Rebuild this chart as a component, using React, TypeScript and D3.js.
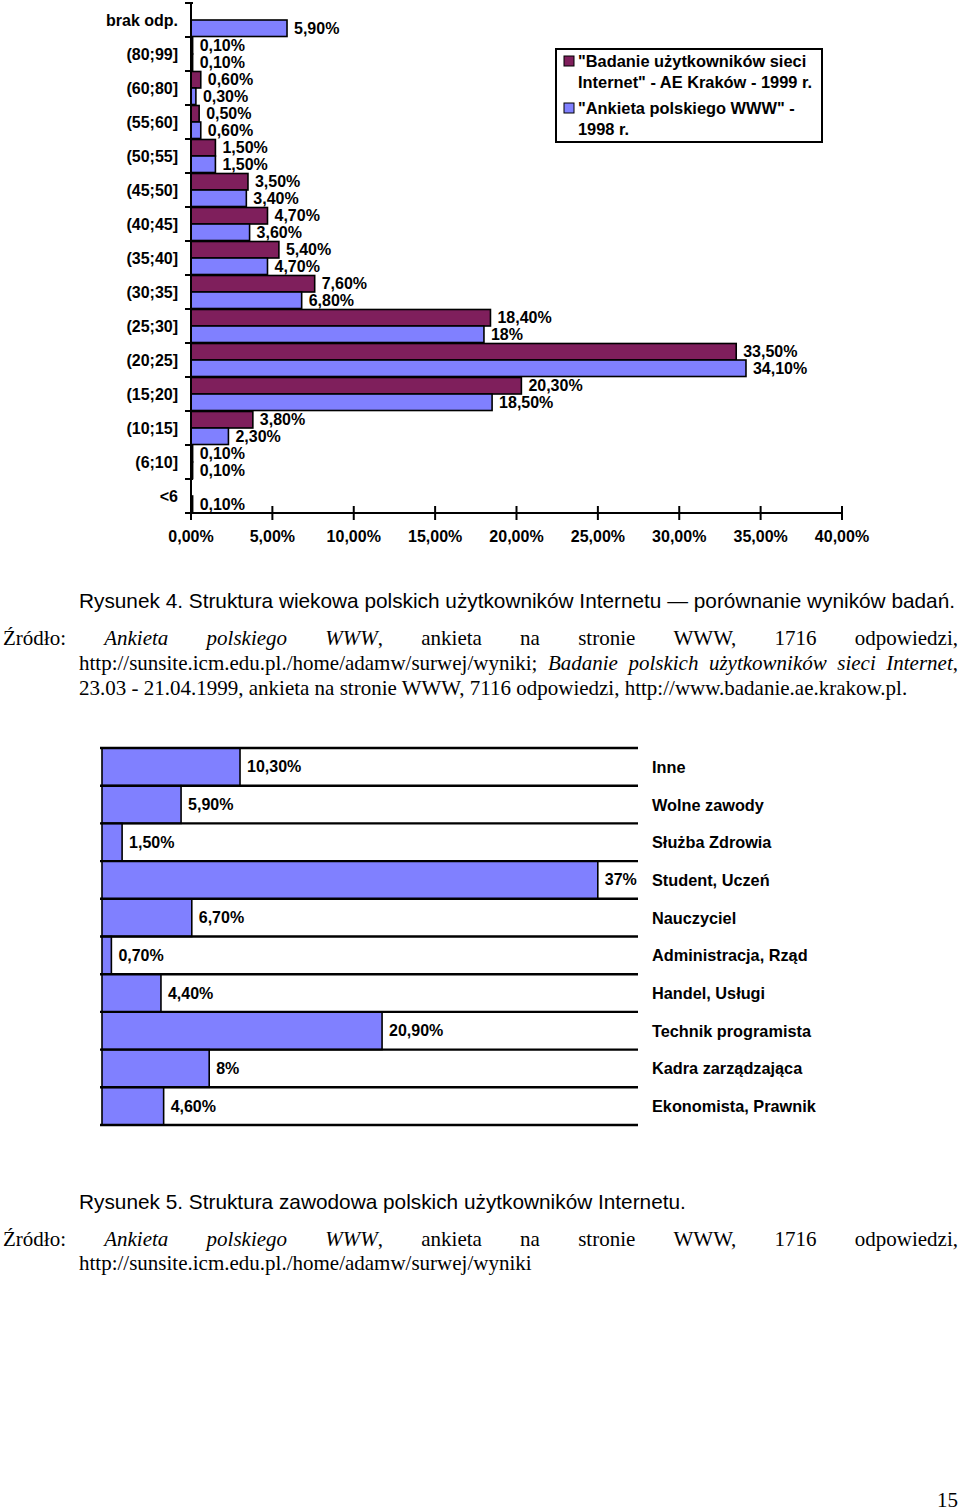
import React from 'react';
import * as d3 from 'd3';

// ---------- Data: Figure 4 (age structure) ----------
const ageCategories = ['brak odp.', '(80;99]', '(60;80]', '(55;60]', '(50;55]', '(45;50]', '(40;45]', '(35;40]', '(30;35]', '(25;30]', '(20;25]', '(15;20]', '(10;15]', '(6;10]', '<6'];
const krakow1999: (number | null)[] = [null, 0.1, 0.6, 0.5, 1.5, 3.5, 4.7, 5.4, 7.6, 18.4, 33.5, 20.3, 3.8, 0.1, null];
const www1998: (number | null)[] = [5.9, 0.1, 0.3, 0.6, 1.5, 3.4, 3.6, 4.7, 6.8, 18, 34.1, 18.5, 2.3, 0.1, 0.1];
const ageTicks = [0, 5, 10, 15, 20, 25, 30, 35, 40];
const seriesKeys = ['1999', '1998'];
const seriesColors = ['#7f1f5c', '#8080ff'];
const legendLines = [
  ['"Badanie użytkowników sieci', 'Internet" - AE Kraków - 1999 r.'],
  ['"Ankieta polskiego WWW" -', '1998 r.'],
];

// ---------- Data: Figure 5 (occupation structure) ----------
const jobCategories = ['Inne', 'Wolne zawody', 'Służba Zdrowia', 'Student, Uczeń', 'Nauczyciel', 'Administracja, Rząd', 'Handel, Usługi', 'Technik programista', 'Kadra zarządzająca', 'Ekonomista, Prawnik'];
const jobValues = [10.3, 5.9, 1.5, 37, 6.7, 0.7, 4.4, 20.9, 8, 4.6];

// ---------- Texts ----------
const caption4 = 'Rysunek 4. Struktura wiekowa polskich użytkowników Internetu — porównanie wyników badań.';
const caption5 = 'Rysunek 5. Struktura zawodowa polskich użytkowników Internetu.';
type Run = [string, boolean];
type Word = Run[];
const srcLine1: Word[] = [
  [['Źródło:', false]], [['Ankieta', true]], [['polskiego', true]], [['WWW', true], [',', false]],
  [['ankieta', false]], [['na', false]], [['stronie', false]], [['WWW,', false]], [['1716', false]], [['odpowiedzi,', false]],
];
const srcLine2: Word[] = [
  [['http://sunsite.icm.edu.pl./home/adamw/surwej/wyniki;', false]], [['Badanie', true]], [['polskich', true]],
  [['użytkowników', true]], [['sieci', true]], [['Internet', true], [',', false]],
];
const srcLine3 = '23.03 - 21.04.1999, ankieta na stronie WWW, 7116 odpowiedzi, http://www.badanie.ae.krakow.pl.';
const srcLine5b = 'http://sunsite.icm.edu.pl./home/adamw/surwej/wyniki';
const pageNumber = '15';

const fmt = (v: number) => (Number.isInteger(v) ? `${v}%` : `${v.toFixed(2).replace('.', ',')}%`);
const fmtTick = (v: number) => `${v.toFixed(2).replace('.', ',')}%`;

const SANS = '"Liberation Sans", Arial, Helvetica, sans-serif';
const SERIF = '"Liberation Serif", "Times New Roman", serif';
const SERIF_SIZE = 21;
const CAPTION_SIZE = 20.8;

let _ctx: CanvasRenderingContext2D | null = null;
function measure(t: string, italic: boolean) {
  if (!_ctx) _ctx = document.createElement('canvas').getContext('2d');
  _ctx!.font = `${italic ? 'italic ' : ''}${SERIF_SIZE}px "Liberation Serif"`;
  return _ctx!.measureText(t).width;
}

function JustifiedLine({ words, x0, x1, y }: { words: Word[]; x0: number; x1: number; y: number }) {
  const widths = words.map((w) => w.reduce((s, r) => s + measure(r[0], r[1]), 0));
  const total = widths.reduce((a, b) => a + b, 0);
  const gap = (x1 - x0 - total) / (words.length - 1);
  let x = x0;
  return (
    <g fontFamily={SERIF} fontSize={SERIF_SIZE} fill="#000">
      {words.map((w, i) => {
        const xx = x;
        x += widths[i] + gap;
        return (
          <text key={i} x={xx} y={y}>
            {w.map((r, j) => (
              <tspan key={j} fontStyle={r[1] ? 'italic' : 'normal'}>{r[0]}</tspan>
            ))}
          </text>
        );
      })}
    </g>
  );
}

function AgeChart() {
  const x = d3.scaleLinear().domain([0, 40]).range([191, 842]);
  const y = d3.scaleBand<string>().domain(ageCategories).range([3, 513]).paddingInner(0).paddingOuter(0);
  const ys = d3.scaleBand<string>().domain(seriesKeys).range([0, y.bandwidth()]).paddingInner(0).paddingOuter(0.03);
  const series = [krakow1999, www1998];
  const boundaries = ageCategories.map((c) => y(c)!).concat([y.range()[1]]);
  const axisY = y.range()[1];
  return (
    <g fontFamily={SANS} fontWeight="bold" fontSize={16}>
      {series.map((vals, si) =>
        vals.map((v, i) => {
          if (v === null) return null;
          const cat = ageCategories[i];
          const top = y(cat)! + ys(seriesKeys[si])!;
          const h = ys.bandwidth();
          return (
            <g key={`${si}-${i}`}>
              <rect x={x(0)} y={top} width={x(v) - x(0)} height={h} fill={seriesColors[si]} stroke="#000" strokeWidth={1.6} />
              <text x={x(v) + 7} y={top + h / 2} dominantBaseline="central">{fmt(v)}</text>
            </g>
          );
        })
      )}
      {/* category axis */}
      <line x1={x(0)} x2={x(0)} y1={y.range()[0]} y2={axisY} stroke="#000" strokeWidth={2} />
      {boundaries.map((b, i) => (
        <line key={i} x1={x(0) - 6} x2={x(0) + 2} y1={b} y2={b} stroke="#000" strokeWidth={2} />
      ))}
      {ageCategories.map((c) => (
        <text key={c} x={178} y={y(c)! + y.bandwidth() / 2} textAnchor="end" dominantBaseline="central">{c}</text>
      ))}
      {/* value axis */}
      <line x1={x(0)} x2={x(40)} y1={axisY} y2={axisY} stroke="#000" strokeWidth={2} />
      {ageTicks.map((t) => (
        <g key={t}>
          <line x1={x(t)} x2={x(t)} y1={axisY - 7} y2={axisY + 7} stroke="#000" strokeWidth={2} />
          <text x={x(t)} y={axisY + 29} textAnchor="middle">{fmtTick(t)}</text>
        </g>
      ))}
      {/* legend */}
      <rect x={556} y={49} width={266} height={93} fill="#fff" stroke="#000" strokeWidth={2} />
      {legendLines.map((lines, i) => (
        <g key={i} fontSize={16.4}>
          <rect x={564} y={56 + i * 47} width={10} height={10} fill={seriesColors[i]} stroke="#000" strokeWidth={1} />
          {lines.map((l, j) => (
            <text key={j} x={578} y={61 + i * 47 + j * 21} dominantBaseline="central">{l}</text>
          ))}
        </g>
      ))}
    </g>
  );
}

function JobChart() {
  const x = d3.scaleLinear().domain([0, 40]).range([102, 638]);
  const y = d3.scaleBand<string>().domain(jobCategories).range([748, 1125]).padding(0);
  const boundaries = jobCategories.map((c) => y(c)!).concat([y.range()[1]]);
  return (
    <g fontFamily={SANS} fontWeight="bold" fontSize={16}>
      {jobValues.map((v, i) => {
        const c = jobCategories[i];
        return (
          <g key={c}>
            <rect x={x(0)} y={y(c)!} width={x(v) - x(0)} height={y.bandwidth()} fill="#8080ff" stroke="#000" strokeWidth={1.6} />
            <text x={x(v) + 7} y={y(c)! + y.bandwidth() / 2} dominantBaseline="central">{fmt(v)}</text>
            <text x={652} y={y(c)! + y.bandwidth() / 2} dominantBaseline="central" fontSize={16.3}>{c}</text>
          </g>
        );
      })}
      {boundaries.map((b, i) => (
        <line key={i} x1={x(0) - 2} x2={x(40)} y1={b} y2={b} stroke="#000" strokeWidth={2.4} />
      ))}
    </g>
  );
}

export default function App() {
  return (
    <svg width={960} height={1511} viewBox="0 0 960 1511" style={{ position: 'absolute', left: 0, top: 0, display: 'block', background: '#fff' }}>
      <rect x={0} y={0} width={960} height={1511} fill="#fff" />
      <AgeChart />
      <text x={79} y={608} fontFamily={SANS} fontSize={CAPTION_SIZE} textLength={876} lengthAdjust="spacingAndGlyphs">{caption4}</text>
      <JustifiedLine words={srcLine1} x0={3} x1={958} y={645} />
      <JustifiedLine words={srcLine2} x0={79} x1={958} y={670} />
      <text x={79} y={695} fontFamily={SERIF} fontSize={SERIF_SIZE}>{srcLine3}</text>
      <JobChart />
      <text x={79} y={1209} fontFamily={SANS} fontSize={CAPTION_SIZE}>{caption5}</text>
      <JustifiedLine words={srcLine1} x0={3} x1={958} y={1246} />
      <text x={79} y={1270} fontFamily={SERIF} fontSize={SERIF_SIZE}>{srcLine5b}</text>
      <text x={958} y={1507} textAnchor="end" fontFamily={SERIF} fontSize={SERIF_SIZE}>{pageNumber}</text>
    </svg>
  );
}
